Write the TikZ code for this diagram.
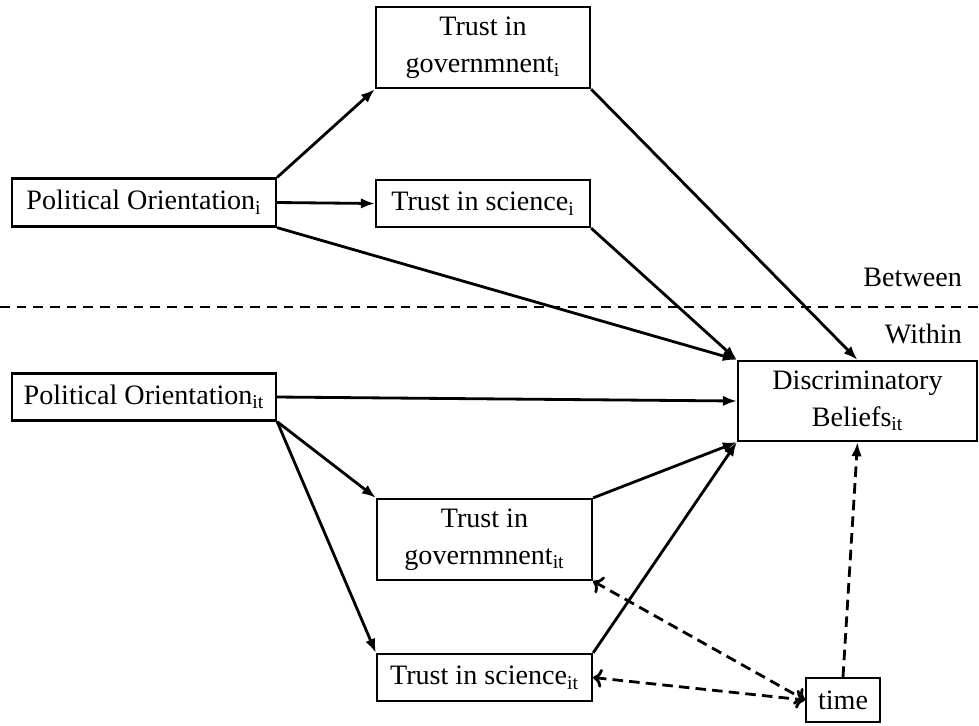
\documentclass[tikz,border=0pt]{standalone}
\usepackage{fontspec}
\setmainfont{Liberation Serif}
\usetikzlibrary{arrows.meta}
\tikzset{var/.style={draw, line width=1.3pt, align=center, inner sep=0pt,
  font=\fontsize{16}{21}\selectfont}}
\tikzset{effect/.style={line width=1.6pt, -{Latex[length=8pt,width=6pt]}}}
\tikzset{timeeff/.style={effect, dash pattern=on 6pt off 3.5pt}}

\begin{document}
\begin{tikzpicture}[x=0.02cm, y=-0.02cm]
    \useasboundingbox (0,0) rectangle (979,725);

    % between part
    \node [var, minimum width=5.28cm, minimum height=0.96cm] (poli) at (144,202.5) {Political Orientation\textsubscript{i}};
    \node [var, minimum width=4.28cm, minimum height=1.62cm] (govi) at (483,47.5) {Trust in\\governmnent\textsubscript{i}};
    \node [var, minimum width=4.28cm, minimum height=0.94cm] (scii) at (483,203.5) {Trust in science\textsubscript{i}};

    \draw [line width=1.2pt, dash pattern=on 5.5pt off 4pt] (0,307) -- (979,307);
    \node [anchor=east, font=\fontsize{16}{21}\selectfont] (between) at (968,277) {Between};
    \node [anchor=east, font=\fontsize{16}{21}\selectfont] (within) at (968,334) {Within};

    % within part
    \node [var, minimum width=5.28cm, minimum height=0.94cm] (polit) at (144,397) {Political Orientation\textsubscript{it}};
    \node [var, minimum width=4.78cm, minimum height=1.6cm] (disc) at (857.5,401) {Discriminatory\\Beliefs\textsubscript{it}};
    \node [var, minimum width=4.3cm, minimum height=1.62cm] (govit) at (484.5,539.5) {Trust in\\governmnent\textsubscript{it}};
    \node [var, minimum width=4.3cm, minimum height=0.94cm] (sciit) at (484.5,677.5) {Trust in science\textsubscript{it}};
    \node [var, minimum width=1.48cm, minimum height=0.88cm] (time) at (843,700) {time};

    \draw [effect] (poli.north east) -- (govi.south west);
    \draw [effect] (poli.east) -- (scii.west);
    \draw [effect] (poli.south east) -- (disc.north west);
    \draw [effect] (govi.south east) -- (disc.north);
    \draw [effect] (scii.south east) -- (disc.north west);

    \draw [effect] (polit.east) -- (disc.west);
    \draw [effect] (polit.south east) -- (govit.north west);
    \draw [effect] (polit.south east) -- (sciit.north west);
    \draw [effect] (govit.north east) -- (disc.south west);
    \draw [effect] (sciit.north east) -- (disc.south west);

    \draw [timeeff] (time.north) -- (disc.south);
    \draw [timeeff, <->] (govit.south east) -- (time.west);
    \draw [timeeff, <->] (sciit.east) -- (time.west);
\end{tikzpicture}
\end{document}
